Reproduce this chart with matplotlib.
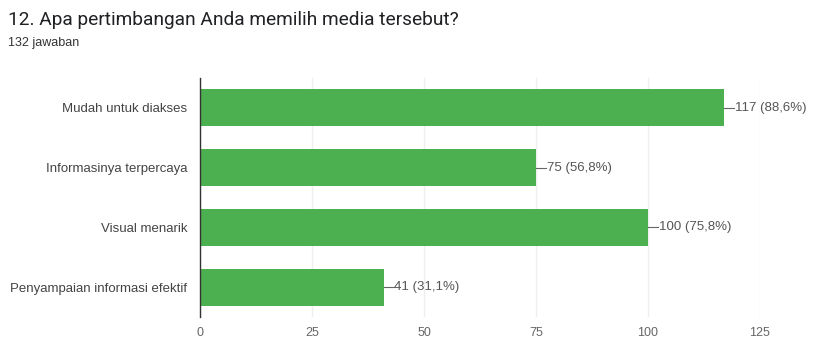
import matplotlib.pyplot as plt
import numpy as np

plt.rcParams['font.family'] = ['Roboto', 'DejaVu Sans']

# data
categories = ['Mudah untuk diakses', 'Informasinya terpercaya',
              'Visual menarik', 'Penyampaian informasi efektif']
counts = [117, 75, 100, 41]
percents = ['88,6%', '56,8%', '75,8%', '31,1%']
xticks = [0, 25, 50, 75, 100, 125]

label_font = ['Liberation Sans', 'DejaVu Sans']

fig = plt.figure(figsize=(8.18, 3.41), dpi=100)
fig.text(8 / 818, 1 - 20 / 341, '12. Apa pertimbangan Anda memilih media tersebut?',
         fontsize=13.8, color='#202124', va='center', ha='left')
fig.text(8 / 818, 1 - 43 / 341, '132 jawaban', fontsize=9, color='#333333',
         va='center', ha='left', family=label_font)

ax = fig.add_axes([200 / 818, 1 - 317 / 341, 560 / 818, 239 / 341])
y = np.arange(len(categories))
ax.barh(y, counts, height=0.62, color='#4caf50', zorder=2)

for yi, c, p in zip(y, counts, percents):
    ax.plot([c, c + 2.2], [yi, yi], color='#666666', lw=0.8, zorder=3)
    ax.text(c + 2.4, yi, f'{c} ({p})', va='center', ha='left',
            fontsize=9.5, color='#555555', family=label_font)

ax.set_ylim(3.5, -0.5)
ax.set_xlim(0, 125)
ax.set_yticks(y)
ax.set_yticklabels(categories, fontsize=9.5, color='#444444', family=label_font)
ax.set_xticks(xticks)
ax.set_xticklabels([str(t) for t in xticks], fontsize=9, color='#666666',
                   family=label_font)
ax.tick_params(length=0)
ax.tick_params(axis='y', pad=9)
ax.tick_params(axis='x', pad=7)
ax.grid(axis='x', color='#eeeeee', lw=1, zorder=0)
for s in ['top', 'right', 'bottom']:
    ax.spines[s].set_visible(False)
ax.spines['left'].set_color('#333333')
ax.spines['left'].set_linewidth(1)

fig.savefig('out.png', dpi=100)
